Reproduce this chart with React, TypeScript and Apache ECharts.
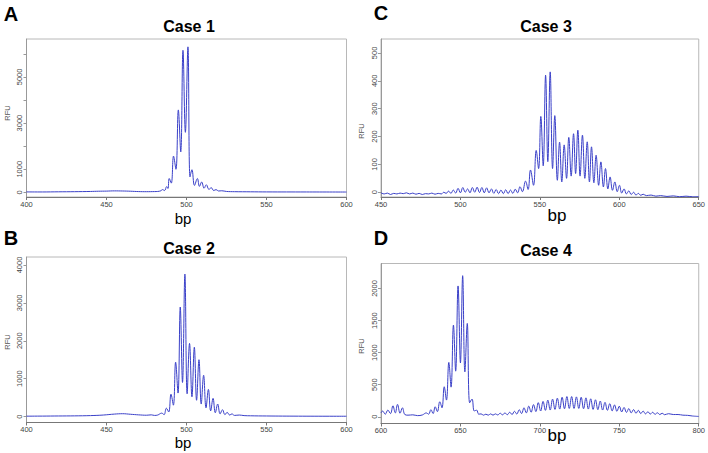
import React, { useEffect, useRef } from "react";
import * as echarts from "echarts";

// ---- Data (bp, RFU) ----
const case1Data: [number, number][] = [
  [400, 20], [410, 18], [420, 25], [430, 30], [440, 40], [445, 50], [450, 55], [455, 65], [460, 60], [465, 50],
  [470, 35], [475, 30], [480, 35], [482, 40], [484, 70], [485, 120], [486.3, 80], [487.6, 250], [488.4, 170],
  [489.2, 600], [490.5, 400], [491.9, 1570], [493.4, 1000], [494.9, 3570], [496.4, 1750], [497.8, 6150],
  [499.3, 2600], [500.9, 6300], [502.2, 670], [503.4, 980], [505, 300], [506.8, 600], [508.1, 260],
  [509.5, 450], [511, 180], [512.4, 330], [514, 130], [515.5, 200], [517, 80], [518.5, 120], [520, 60],
  [522, 70], [525, 40], [530, 30], [540, 25], [550, 20], [575, 18], [600, 15],
];

const case2Data: [number, number][] = [
  [400, 10], [410, 12], [420, 15], [430, 18], [440, 25], [448, 40], [455, 65], [460, 75], [465, 60], [470, 45],
  [475, 35], [478, 45], [480, 30], [482, 40], [484.5, 90], [486, 50], [487.4, 220], [488.9, 120], [490.3, 590],
  [491.8, 300], [493.2, 1435], [494.7, 620], [496.1, 2890], [497.5, 900], [499.0, 3760], [500.4, 600],
  [501.9, 1930], [503.4, 520], [504.9, 1830], [506.3, 430], [507.8, 1500], [509.2, 330], [510.7, 1090],
  [512.2, 230], [513.7, 715], [515.1, 150], [516.6, 480], [518, 100], [519.5, 330], [521, 70], [522.5, 180],
  [524, 50], [525.4, 110], [527, 40], [528.4, 70], [530, 30], [533, 40], [536, 25], [540, 20], [550, 15],
  [570, 10], [600, 8],
];

const case3Data: [number, number][] = [
  [450, -2], [452, -6], [454, -3], [456, -8], [458, -4], [460, -6], [462, -3], [464, -5], [466, -2], [468, -6],
  [470, -3], [472, -7], [474, -4], [476, -8], [478, -5], [480, -6], [482, -3], [484, -7], [486, -4], [488, -6],
  [489.5, 0], [491, -4], [492.5, 4], [494, -4], [495.5, 8], [497, -3], [498.5, 14], [500, -2], [501.5, 17],
  [503, 0], [504.5, 12], [506, -2], [507.5, 17], [509, 0], [510.5, 18], [512, -1], [513.5, 17], [515, -2],
  [516.5, 16], [518, -2], [519.5, 12], [521, -4], [522.5, 10], [524, -5], [525.5, 8], [527, -5], [528.5, 9],
  [530, -5], [531.5, 8], [533, -4], [534.5, 11], [536, -2], [537.5, 20], [539, 2], [541, 40], [542.6, 10],
  [544.1, 80], [546, 25], [547.7, 150], [549.2, 85], [550.6, 272], [552.1, 95], [553.6, 420], [555, 110],
  [556.5, 432], [558, 85], [559.4, 275], [561, 43], [562.4, 180], [563.8, 37], [565.3, 170], [566.8, 50],
  [568.2, 197], [569.7, 58], [571.2, 210], [572.5, 67], [573.9, 223], [575.3, 58], [576.8, 205], [578.3, 50],
  [579.8, 181], [581.2, 37], [582.5, 163], [584, 34], [585.4, 133], [587, 25], [588.4, 109], [590, 19],
  [591.3, 85], [592.8, 12], [594.2, 55], [595.7, 7], [597.2, 37], [598.7, 2], [600.1, 25], [601.5, -3],
  [603, 12], [604.5, -6], [606, 5], [607.5, -8], [609, 0], [610.5, -10], [612, -4], [613.5, -11], [615, -7],
  [617, -12], [620, -10], [623, -14], [626, -12], [630, -15], [634, -13], [638, -16], [642, -14], [646, -16],
  [650, -15],
];

const case4Data: [number, number][] = [
  [600, 60], [601, 89], [602.7, 40], [604.3, 104], [606, 50], [607.5, 171], [609, 60], [610.4, 193], [612, 55],
  [613.5, 140], [615, 35], [617, 25], [620, 30], [623, 18], [626, 28], [628.5, 60], [630, 40], [631.4, 110],
  [632.8, 50], [634.1, 156], [635.5, 80], [637, 234], [638.4, 140], [639.8, 468], [641.2, 260], [642.7, 848],
  [644.1, 462], [645.6, 1430], [647, 711], [648.5, 2040], [650, 840], [651.4, 2200], [652.8, 700], [654.3, 1455],
  [655.8, 218], [657.3, 276], [658.7, 90], [660.2, 104], [661.5, 40], [663, 45], [664.5, 25], [666, 40],
  [667.5, 25], [669, 45], [670.5, 25], [672, 45], [673.5, 28], [675, 55], [676.5, 30], [678, 60], [679.5, 32],
  [681, 70], [682.5, 35], [684, 85], [685.5, 42], [687, 110], [688.5, 50], [690, 140], [691.5, 60], [693, 165],
  [694.5, 70], [696, 190], [697.5, 80], [699, 220], [700.5, 90], [702, 240], [703.5, 100], [705, 260],
  [706.5, 105], [708, 275], [709.5, 115], [711, 290], [712.5, 120], [714, 305], [715.5, 125], [717, 315],
  [718.5, 130], [720, 315], [721.5, 130], [723, 310], [724.5, 130], [726, 305], [727.5, 125], [729, 295],
  [730.5, 120], [732, 280], [733.5, 115], [735, 265], [736.5, 110], [738, 245], [739.5, 105], [741, 225],
  [742.5, 100], [744, 205], [745.5, 92], [747, 185], [748.5, 85], [750, 165], [751.5, 75], [753, 145],
  [754.5, 68], [756, 128], [757.5, 60], [759, 112], [760.5, 55], [762, 100], [763.5, 50], [765, 88],
  [766.5, 45], [768, 78], [769.5, 42], [771, 70], [772.5, 38], [774, 62], [775.5, 35], [777, 55], [778.5, 32],
  [781, 48], [784, 35], [787, 35], [790, 25], [793, 22], [796, 12], [800, 5],
];

const seriesData = [case1Data, case2Data, case3Data, case4Data];

// axis ranges and tick labels
const xRanges: [number, number][] = [[400, 600], [400, 600], [450, 650], [600, 800]];
const xTicks: number[][] = [
  [400, 450, 500, 550, 600],
  [400, 450, 500, 550, 600],
  [450, 500, 550, 600, 650],
  [600, 650, 700, 750, 800],
];
const yRanges: [number, number][] = [[-200, 6640], [-157, 4210], [-17, 550], [-105, 2390]];
const yTickLabels: number[][] = [
  [0, 1000, 3000, 5000],
  [0, 1000, 2000, 3000, 4000],
  [0, 100, 200, 300, 400, 500],
  [0, 500, 1000, 1500, 2000],
];
const yTicks: number[][] = [
  [0, 1000, 2000, 3000, 4000, 5000, 6000],
  [0, 1000, 2000, 3000, 4000],
  [0, 100, 200, 300, 400, 500],
  [0, 500, 1000, 1500, 2000],
];

const titles = ["Case 1", "Case 2", "Case 3", "Case 4"];
const panelLetters = ["A", "B", "C", "D"];
const xAxisTitle = "bp";
const yAxisTitle = "RFU";

// layout
const grids = [
  { left: 26.5, top: 39, width: 320, height: 158 },
  { left: 26.5, top: 257, width: 320, height: 165.5 },
  { left: 381, top: 39, width: 320, height: 158 },
  { left: 381, top: 263.5, width: 320, height: 160 },
];
const titlePos = [[189, 26], [189, 248], [546, 26], [546, 250]];
const letterPos = [[11, 14], [11, 238], [381, 13], [381, 238]];
const bpPos = [[183, 218], [183, 442], [557, 215], [557, 435]];
const bpSize = [15, 15, 17, 17];
const rfuPos = [[7.5, 113], [7.5, 342], [361.5, 131], [361.5, 346]];

const LINE = "#3a40c8";
const FONT = "'Liberation Sans', Arial, sans-serif";

export default function App() {
  const ref = useRef<HTMLDivElement>(null);
  useEffect(() => {
    if (!ref.current) return;
    const chart = echarts.init(ref.current, undefined, { renderer: "svg" });
    const graphics: any[] = [];
    for (let i = 0; i < 4; i++) {
      graphics.push({
        type: "text", x: titlePos[i][0], y: titlePos[i][1],
        style: { text: titles[i], font: `bold 16px ${FONT}`, fill: "#000", align: "center", verticalAlign: "middle" },
      });
      graphics.push({
        type: "text", x: letterPos[i][0], y: letterPos[i][1],
        style: { text: panelLetters[i], font: `bold 20px ${FONT}`, fill: "#000", align: "center", verticalAlign: "middle" },
      });
      graphics.push({
        type: "text", x: bpPos[i][0], y: bpPos[i][1],
        style: { text: xAxisTitle, font: `${bpSize[i]}px ${FONT}`, fill: "#000", align: "center", verticalAlign: "middle" },
      });
      graphics.push({
        type: "text", x: rfuPos[i][0], y: rfuPos[i][1], rotation: Math.PI / 2,
        style: { text: yAxisTitle, font: `7.5px ${FONT}`, fill: "#555", align: "center", verticalAlign: "middle" },
      });
    }
    const plain = (v: number) => String(v);
    const option: any = {
      animation: false,
      backgroundColor: "#fff",
      grid: grids.map((g) => ({ ...g, show: true, borderColor: "#b8b8b8", borderWidth: 1, containLabel: false })),
      xAxis: grids.map((_, i) => ({
        type: "value", gridIndex: i, min: xRanges[i][0], max: xRanges[i][1],
        axisLine: { show: true, onZero: false, lineStyle: { color: "#777", width: 1 } },
        axisTick: { show: true, length: 3, lineStyle: { color: "#777" }, customValues: xTicks[i] },
        axisLabel: { fontSize: 7.5, color: "#444", margin: 3, fontFamily: FONT, customValues: xTicks[i], formatter: plain },
        splitLine: { show: false },
      })),
      yAxis: grids.map((_, i) => ({
        type: "value", gridIndex: i, min: yRanges[i][0], max: yRanges[i][1],
        axisLine: { show: true, onZero: false, lineStyle: { color: "#999", width: 1 } },
        axisTick: { show: true, length: 3, lineStyle: { color: "#999" }, customValues: yTicks[i] },
        axisLabel: { fontSize: 7.5, color: "#444", margin: 3, rotate: 90, fontFamily: FONT, customValues: yTickLabels[i], formatter: plain },
        splitLine: { show: false },
      })),
      series: seriesData.map((d, i) => ({
        type: "line", xAxisIndex: i, yAxisIndex: i, data: d, showSymbol: false, smooth: 0.4,
        lineStyle: { color: LINE, width: 1 }, silent: true,
      })),
      graphic: graphics,
    };
    chart.setOption(option);
    return () => chart.dispose();
  }, []);
  return <div ref={ref} style={{ position: "fixed", left: 0, top: 0, width: 708, height: 453, background: "#fff" }} />;
}
